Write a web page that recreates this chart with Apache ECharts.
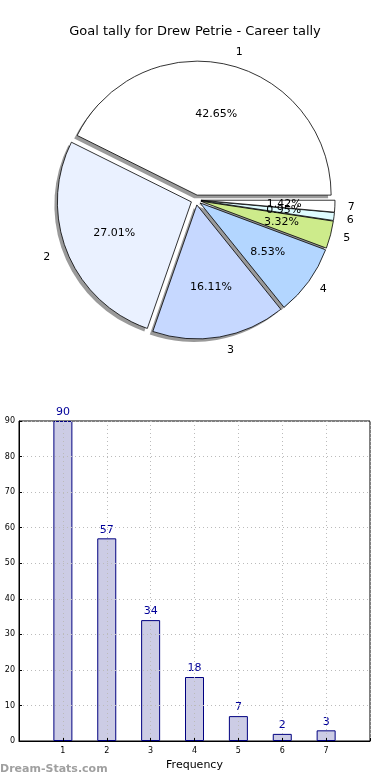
<!DOCTYPE html>
<html>
<head>
<meta charset="utf-8">
<script src="https://cdn.jsdelivr.net/npm/echarts@6/dist/echarts.min.js"></script>
<style>html,body{margin:0;padding:0;background:#fff}#c{width:390px;height:780px}</style>
</head>
<body>
<div id="c"></div>
<script>
const categories = ['1', '2', '3', '4', '5', '6', '7'];
const goals = [90, 57, 34, 18, 7, 2, 3];
const sliceColors = ['#ffffff', '#eaf1ff', '#c6d8ff', '#b3d6ff', '#cdeb8b', '#dffcff', '#ffffff'];
const yTicks = [0, 10, 20, 30, 40, 50, 60, 70, 80, 90];
const titleText = 'Goal tally for Drew Petrie - Career tally';

const total = goals.reduce((a, b) => a + b, 0);
const FONT = 'DejaVu Sans';
const R = 134;
const cx = 196, cy = 200;

const pieData = categories.map((c, i) => ({
  name: c, value: goals[i], selected: true,
  itemStyle: { color: sliceColors[i] }
}));
const clearStyle = { color: 'rgba(0,0,0,0)', borderWidth: 0, borderColor: 'rgba(0,0,0,0)', shadowColor: 'rgba(0,0,0,0)', shadowBlur: 0 };
const shadowStyle = { color: '#9a9a9a', borderWidth: 0 };
const transData = categories.map((c, i) => ({
  name: c, value: goals[i], selected: true
}));
const mainStyle = { borderColor: '#000', borderWidth: 0.8 };

const chart = echarts.init(document.getElementById('c'), null, { renderer: 'canvas' });
chart.setOption({
  animation: false,
  title: {
    text: titleText, left: 'center', top: 20,
    textStyle: { fontFamily: FONT, fontSize: 13, fontWeight: 'normal', color: '#000' }
  },
  graphic: [{
    type: 'text', left: 0, top: 764,
    style: { text: 'Dream-Stats.com', fill: '#a0a0a0', font: 'bold 11px "DejaVu Sans"' }
  }],
  grid: {
    left: 19, right: 20, top: 421, bottom: 39, show: true,
    borderColor: '#000', borderWidth: 1, backgroundColor: 'transparent'
  },
  xAxis: {
    type: 'value', min: 0, max: 8, interval: 1, z: 5,
    name: 'Frequency', nameLocation: 'middle', nameGap: 19,
    nameTextStyle: { fontFamily: FONT, fontSize: 11, color: '#000' },
    axisLine: { show: true, lineStyle: { color: '#000' } },
    axisTick: { show: true, inside: true, length: 3, lineStyle: { color: '#000' } },
    axisLabel: {
      fontFamily: FONT, fontSize: 8, color: '#000', margin: 6,
      formatter: v => (v >= 1 && v <= categories.length) ? categories[v - 1] : ''
    },
    splitLine: { show: true, lineStyle: { color: '#bbbbbb', type: [1, 3], width: 1 } }
  },
  yAxis: {
    type: 'value', min: yTicks[0], max: yTicks[yTicks.length - 1], interval: 10, z: 5,
    axisLine: { show: true, lineStyle: { color: '#000' } },
    axisTick: { show: true, inside: true, length: 3, lineStyle: { color: '#000' } },
    axisLabel: { fontFamily: FONT, fontSize: 8, color: '#000', margin: 4 },
    splitLine: { show: true, lineStyle: { color: '#bbbbbb', type: [1, 3], width: 1 } }
  },
  series: [
    {
      type: 'pie', center: [cx - 3, cy + 3], radius: R,
      startAngle: 0, clockwise: false, silent: true,
      selectedMode: 'multiple', selectedOffset: 5,
      label: { show: false }, labelLine: { show: false },
      emphasis: { disabled: true },
      itemStyle: shadowStyle, select: { itemStyle: shadowStyle },
      data: transData, z: 1
    },
    {
      type: 'pie', center: [cx, cy], radius: R,
      startAngle: 0, clockwise: false,
      selectedMode: 'multiple', selectedOffset: 5,
      label: { show: false }, labelLine: { show: false },
      emphasis: { disabled: true },
      itemStyle: mainStyle, select: { itemStyle: mainStyle },
      data: pieData, z: 2
    },
    {
      type: 'pie', center: [cx, cy], radius: R * 1.2,
      startAngle: 0, clockwise: false, silent: true,
      selectedMode: 'multiple', selectedOffset: 5,
      avoidLabelOverlap: false,
      labelLayout: { hideOverlap: false },
      emphasis: { disabled: true },
      itemStyle: clearStyle, select: { itemStyle: clearStyle },
      label: {
        show: true, position: 'inside', fontFamily: FONT, fontSize: 11, color: '#000',
        formatter: p => (p.value / total * 100).toFixed(2) + '%'
      },
      labelLine: { show: false },
      data: transData, z: 3
    },
    {
      type: 'pie', center: [cx, cy], radius: R,
      startAngle: 0, clockwise: false, silent: true,
      selectedMode: 'multiple', selectedOffset: 5,
      emphasis: { disabled: true },
      itemStyle: clearStyle, select: { itemStyle: clearStyle },
      label: {
        show: true, position: 'outside', fontFamily: FONT, fontSize: 11, color: '#000',
        formatter: p => p.name
      },
      labelLine: { show: false, length: 13, length2: 0 },
      data: transData, z: 3
    },
    {
      type: 'bar', barWidth: 19,
      data: categories.map((c, i) => [Number(c), goals[i]]),
      itemStyle: { color: '#ccccE5', borderColor: '#000080', borderWidth: 1 },
      label: {
        show: true, position: 'top', distance: 3,
        fontFamily: FONT, fontSize: 11, color: '#000099'
      },
      emphasis: { disabled: true }
    }
  ]
});
</script>
</body>
</html>
